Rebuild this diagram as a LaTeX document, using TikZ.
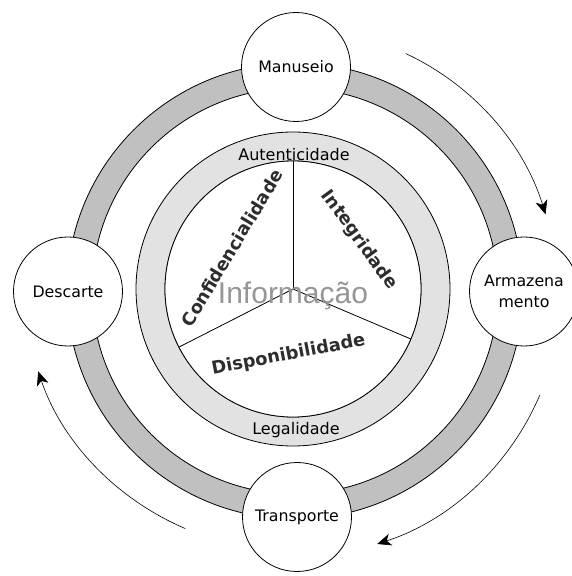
\documentclass[tikz,border=0pt]{standalone}
\usepackage{fontspec}
\setmainfont{DejaVu Sans}
\newfontfamily\infofont{Liberation Sans}
\usetikzlibrary{arrows.meta}
\definecolor{bandgray}{RGB}{192,192,192}
\definecolor{ringgray}{RGB}{226,226,226}
\definecolor{infogray}{RGB}{150,150,150}
\definecolor{sectortext}{RGB}{45,45,45}
\begin{document}
\begin{tikzpicture}[x=1pt,y=1pt,
  outline/.style={draw=black,line width=0.8pt},
  stage/.style={circle,draw=black,line width=0.8pt,fill=white,minimum size=109pt,inner sep=0pt,align=center,font=\fontsize{15.8}{21}\selectfont},
  ringlabel/.style={inner sep=0pt,font=\fontsize{16}{19}\selectfont},
  sectorlabel/.style={inner sep=0pt,font=\bfseries\fontsize{17.8}{20}\selectfont,text=sectortext},
  cyclearrow/.style={draw=black,line width=0.6pt,-{Stealth[length=14pt,width=12pt,inset=4pt]}}
]
\fill[white] (0,0) rectangle (571,576);
\useasboundingbox (0,0) rectangle (571,576);
\coordinate (CO) at (295,285);
\coordinate (CI) at (293,287);
% outer gray band
\fill[bandgray,even odd rule] (CO) circle[radius=228] (CO) circle[radius=203];
\draw[outline] (CO) circle[radius=228] (CO) circle[radius=203];
% inner light ring
\fill[ringgray,even odd rule] (CI) circle[radius=157] (CI) circle[radius=128];
\draw[outline] (CI) circle[radius=157] (CI) circle[radius=128];
\fill[white] (CI) circle[radius=128];
\draw[outline] (CI) circle[radius=128];
% Y lines
\coordinate (ytop) at ([shift={(90:128)}]CI);
\coordinate (yleft) at ([shift={(207:128)}]CI);
\coordinate (yright) at ([shift={(337:128)}]CI);
\draw[black,line width=0.8pt] (CI) -- (ytop);
\draw[black,line width=0.8pt] (CI) -- (yleft);
\draw[black,line width=0.8pt] (CI) -- (yright);
% labels in rings
\node[ringlabel] (aut) at (294,421) {Autenticidade};
\node[ringlabel] (leg) at (296,146) {Legalidade};
\node[inner sep=0pt,font=\infofont\fontsize{30}{32}\selectfont,text=infogray] (info) at (293,280) {Informação};
\node[sectorlabel,rotate=59] (conf) at (232,328) {Confidencialidade};
\node[sectorlabel,rotate=-54] (integ) at (359,336) {Integridade};
\node[sectorlabel,rotate=10.7] (disp) at (288.5,221) {Disponibilidade};
% stage circles
\node[stage] (man) at (296,509) {Manuseio};
\node[stage] (arm) at (524,284.5) {Armazena\\mento};
\node[stage] (tra) at (297,59) {Transporte};
\node[stage] (des) at (68,284.5) {Descarte};
% cycle arrows
\coordinate (a1s) at ([shift={(65:262)}]CO);
\coordinate (a2s) at ([shift={(-23:266)}]CO);
\coordinate (a3s) at ([shift={(246:270 and 260)}]CO);
\draw[cyclearrow] (a1s) arc[start angle=65,end angle=17,radius=262];
\draw[cyclearrow] (a2s) arc[start angle=-23,end angle=-72,radius=266];
\draw[cyclearrow] (a3s) arc[start angle=246,end angle=198,x radius=270,y radius=260];
\end{tikzpicture}
\end{document}
